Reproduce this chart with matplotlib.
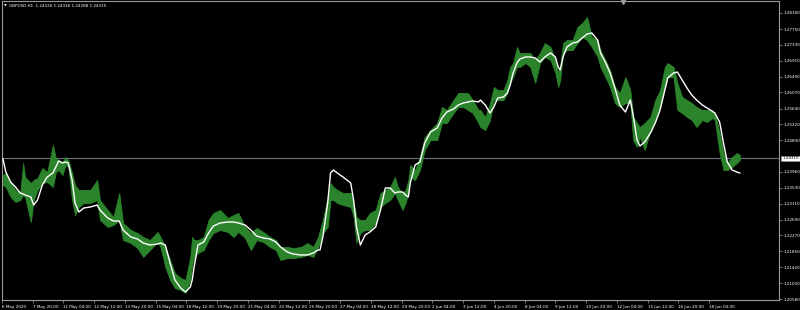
import matplotlib
matplotlib.use("Agg")
import matplotlib.pyplot as plt
import matplotlib.transforms as mtransforms

# ---- data: GBPUSD H1, bar index (hours on chart), high/low envelope and moving average ----
bar_idx = [1, 4, 9, 14, 19, 22, 24, 30, 33, 37, 42, 47, 53, 56, 59, 63, 66, 69, 73, 76,
           80, 85, 92, 99, 102, 110, 116, 122, 126, 134, 141, 147, 154, 162, 165, 170, 175, 180, 186, 191,
           196, 198, 200, 204, 210, 215, 220, 227, 235, 241, 246, 253, 259, 265, 272, 279, 285, 290, 297, 303,
           311, 318, 324, 329, 331, 334, 339, 342, 345, 349, 355, 363, 366, 369, 373, 378, 383, 389, 394, 399,
           404, 409, 412, 417, 420, 423, 425, 430, 435, 440, 446, 453, 458, 463, 470, 475, 480, 485, 490, 496,
           498, 503, 508, 512, 516, 522, 526, 529, 532, 536, 539, 545, 550, 555, 560, 565, 571, 576, 579, 581,
           584, 588, 594, 599, 604, 609, 614, 620, 623, 628, 633, 638, 643, 649, 654, 657, 661, 664, 669, 675,
           680, 685, 690, 693, 699, 703, 708, 713, 718, 723, 729, 734, 739, 742, 747, 751, 755, 760, 765, 768]

high = [1.23875, 1.23928, 1.23663, 1.23477, 1.23397, 1.24194, 1.23822, 1.23663, 1.23742, 1.23796,
        1.24061, 1.23955, 1.24672, 1.24327, 1.24274, 1.24221, 1.24354, 1.24274, 1.23928, 1.23610,
        1.23477, 1.23477, 1.23477, 1.23742, 1.23211, 1.22945, 1.22759, 1.23397, 1.22600, 1.22414,
        1.22334, 1.22228, 1.22148, 1.22361, 1.22228, 1.21962, 1.21617, 1.21271, 1.21139, 1.21085,
        1.21697, 1.22228, 1.22148, 1.22148, 1.22228, 1.22680, 1.22866, 1.22945, 1.22733, 1.22812,
        1.22866, 1.22494, 1.22334, 1.22467, 1.22361, 1.22228, 1.22148, 1.21962, 1.21962, 1.21936,
        1.21962, 1.22068, 1.21962, 1.22228, 1.22414, 1.22680, 1.23291, 1.23663, 1.23556, 1.23477,
        1.23397, 1.23397, 1.23131, 1.22759, 1.22680, 1.22680, 1.22866, 1.22945, 1.23397, 1.23477,
        1.23556, 1.23822, 1.23556, 1.23397, 1.23477, 1.23742, 1.24141, 1.24008, 1.24354, 1.24885,
        1.25071, 1.25257, 1.25682, 1.25602, 1.25868, 1.26054, 1.26054, 1.26054, 1.25868, 1.25602,
        1.25602, 1.25416, 1.25788, 1.26213, 1.26134, 1.26134, 1.26399, 1.26745, 1.26851, 1.27276,
        1.27117, 1.27117, 1.27117, 1.26931, 1.27117, 1.27382, 1.27276, 1.26931, 1.26585, 1.26745,
        1.27382, 1.27462, 1.27462, 1.27808, 1.27914, 1.28073, 1.27542, 1.27462, 1.27196, 1.26931,
        1.26665, 1.26213, 1.26054, 1.26479, 1.26134, 1.25416, 1.25257, 1.25151, 1.25257, 1.25416,
        1.25868, 1.26134, 1.26745, 1.26851, 1.26745, 1.26320, 1.25948, 1.25868, 1.25788, 1.25682,
        1.25602, 1.25602, 1.25602, 1.25523, 1.24991, 1.24460, 1.24194, 1.24354, 1.24460, 1.24407]

low = [1.23610, 1.23556, 1.23291, 1.23158, 1.23211, 1.23344, 1.23291, 1.22626, 1.23211, 1.23477,
       1.23663, 1.23689, 1.23556, 1.23955, 1.24008, 1.23875, 1.24141, 1.24088, 1.23211, 1.22812,
       1.23025, 1.23131, 1.23131, 1.23211, 1.22680, 1.22494, 1.22547, 1.22680, 1.22148, 1.22068,
       1.21936, 1.21697, 1.21882, 1.22095, 1.21962, 1.21431, 1.21085, 1.20873, 1.20820, 1.20740,
       1.21085, 1.21484, 1.21697, 1.21803, 1.21882, 1.22148, 1.22334, 1.22414, 1.22361, 1.22228,
       1.22361, 1.22201, 1.21882, 1.22148, 1.22095, 1.21962, 1.21882, 1.21617, 1.21670, 1.21670,
       1.21697, 1.21750, 1.21697, 1.21962, 1.22068, 1.22334, 1.22494, 1.23211, 1.23211, 1.23131,
       1.23078, 1.23025, 1.22759, 1.22068, 1.22334, 1.22414, 1.22414, 1.22600, 1.23025, 1.23131,
       1.23211, 1.23397, 1.23211, 1.22945, 1.23131, 1.23397, 1.23822, 1.23742, 1.24008, 1.24539,
       1.24805, 1.24805, 1.25257, 1.25257, 1.25523, 1.25682, 1.25682, 1.25602, 1.25523, 1.25257,
       1.25151, 1.25071, 1.25337, 1.25868, 1.25868, 1.25868, 1.26054, 1.26320, 1.26479, 1.26745,
       1.26745, 1.26851, 1.26745, 1.26320, 1.26851, 1.27011, 1.26931, 1.26585, 1.26213, 1.26399,
       1.27117, 1.27196, 1.27196, 1.27382, 1.27542, 1.27462, 1.27276, 1.27011, 1.26745, 1.26479,
       1.26213, 1.25788, 1.25682, 1.25788, 1.25788, 1.24805, 1.24619, 1.24885, 1.24539, 1.25071,
       1.25337, 1.25682, 1.26213, 1.26479, 1.26479, 1.25602, 1.25523, 1.25416, 1.25337, 1.25151,
       1.25337, 1.25283, 1.25390, 1.25337, 1.24460, 1.24008, 1.24008, 1.24088, 1.24194, 1.24274]

ma = [1.24300, 1.23955, 1.23689, 1.23556, 1.23397, 1.23370, 1.23344, 1.23291, 1.23078, 1.23211,
      1.23610, 1.23822, 1.23928, 1.24088, 1.24247, 1.24194, 1.24221, 1.24194, 1.23742, 1.23131,
      1.22892, 1.22998, 1.23025, 1.23078, 1.22945, 1.22733, 1.22653, 1.22653, 1.22414, 1.22228,
      1.22175, 1.22068, 1.22015, 1.22042, 1.22068, 1.22015, 1.21537, 1.21085, 1.20873, 1.20767,
      1.20899, 1.21085, 1.21431, 1.22015, 1.22095, 1.22334, 1.22520, 1.22600, 1.22626, 1.22626,
      1.22600, 1.22547, 1.22414, 1.22254, 1.22201, 1.22175, 1.22095, 1.21962, 1.21829, 1.21776,
      1.21750, 1.21750, 1.21803, 1.21882, 1.21882, 1.22228, 1.23131, 1.23928, 1.24008, 1.23928,
      1.23822, 1.23663, 1.23211, 1.22494, 1.22015, 1.22281, 1.22361, 1.22494, 1.22945, 1.23530,
      1.23530, 1.23397, 1.23424, 1.23424, 1.23344, 1.23291, 1.23663, 1.24141, 1.24221, 1.24725,
      1.25018, 1.25124, 1.25390, 1.25549, 1.25629, 1.25735, 1.25788, 1.25815, 1.25841, 1.25815,
      1.25868, 1.25735, 1.25523, 1.25682, 1.25921, 1.25948, 1.26054, 1.26267, 1.26585, 1.26851,
      1.26957, 1.27011, 1.27011, 1.26984, 1.26878, 1.27011, 1.27117, 1.27011, 1.26745, 1.26665,
      1.27011, 1.27276, 1.27382, 1.27409, 1.27515, 1.27622, 1.27648, 1.27462, 1.27117, 1.26878,
      1.26585, 1.26187, 1.25735, 1.25549, 1.25868, 1.25469, 1.24805, 1.24646, 1.24752, 1.24991,
      1.25257, 1.25602, 1.26134, 1.26453, 1.26585, 1.26612, 1.26399, 1.26187, 1.26001, 1.25868,
      1.25735, 1.25655, 1.25576, 1.25523, 1.25283, 1.24725, 1.24221, 1.24008, 1.23955, 1.23928]

bid_price = 1.24315
title_text = "GBPUSD,H1  1.24326 1.24326 1.24288 1.24315"

y_ticks = [1.28180, 1.27750, 1.27330, 1.26910, 1.26490, 1.26070, 1.25640, 1.25220, 1.24800,
           1.23960, 1.23530, 1.23110, 1.22690, 1.22270, 1.21850, 1.21420, 1.21000, 1.20580]
x_tick_bars = [0, 32, 64, 96, 128, 160, 192, 224, 256, 288, 320, 352, 384, 416, 448, 480,
               512, 544, 576, 608, 640, 672, 704, 736]
x_tick_labels = ["6 May 2020", "7 May 20:00", "11 May 04:00", "12 May 12:00", "13 May 20:00",
                 "15 May 04:00", "18 May 12:00", "19 May 20:00", "21 May 04:00", "22 May 12:00",
                 "25 May 20:00", "27 May 04:00", "28 May 12:00", "29 May 20:00", "2 Jun 04:00",
                 "3 Jun 12:00", "4 Jun 20:00", "8 Jun 04:00", "9 Jun 12:00", "10 Jun 20:00",
                 "12 Jun 04:00", "15 Jun 12:00", "16 Jun 20:00", "18 Jun 04:00"]
shift_marker_bar = 646

# ---- figure ----
W, H = 800, 310
fig = plt.figure(figsize=(W / 100, H / 100), dpi=100, facecolor="black")
ax = fig.add_axes([2 / W, 10.5 / H, 777 / W, 299 / H])
ax.set_facecolor("black")

green = "#2b832b"
ax.fill_between(bar_idx, low, high, color=green, linewidth=0.6, edgecolor=green, zorder=2)
ax.plot(bar_idx, ma, color="white", lw=1.0, zorder=3)
ax.axhline(bid_price, color="#707080", lw=0.8, zorder=1)

ax.set_xlim(0.5, 808.8)
ax.set_ylim(1.20567, 1.28512)

for s in ax.spines.values():
    s.set_color("#9a9a9a")
    s.set_linewidth(0.8)

ax.yaxis.tick_right()
ax.set_yticks(y_ticks)
ax.set_yticklabels([f"{v:.5f}" for v in y_ticks])
ax.tick_params(axis="y", direction="out", length=2.5, width=0.5, colors="#9a9a9a",
               labelcolor="white", labelsize=3, pad=1)

ax.set_xticks(x_tick_bars)
ax.set_xticklabels(x_tick_labels)
for lab in ax.get_xticklabels():
    lab.set_horizontalalignment("left")
ax.tick_params(axis="x", direction="out", length=2.5, width=0.5, colors="#9a9a9a",
               labelcolor="white", labelsize=3, pad=1.2)

# current price label
trans = mtransforms.blended_transform_factory(ax.transAxes, ax.transData)
ax.text(1.004, bid_price, f"{bid_price:.5f}", transform=trans, ha="left", va="center",
        fontsize=3, color="black", zorder=10, clip_on=False,
        bbox=dict(facecolor="white", edgecolor="#9a9a9a", pad=0.6, linewidth=0.4))

# chart shift marker at top
trans2 = mtransforms.blended_transform_factory(ax.transData, ax.transAxes)
ax.plot([shift_marker_bar], [0.995], marker="v", markersize=3, color="#9a9a9a",
        transform=trans2, clip_on=False, zorder=5)

# title
fig.text(4 / W, 1 - 6 / H, "\u25bc", fontsize=2.5, color="white", va="center", ha="left")
fig.text(9 / W, 1 - 6 / H, title_text, fontsize=3, color="white", va="center", ha="left")

fig.savefig("out.png", dpi=100, facecolor="black")
